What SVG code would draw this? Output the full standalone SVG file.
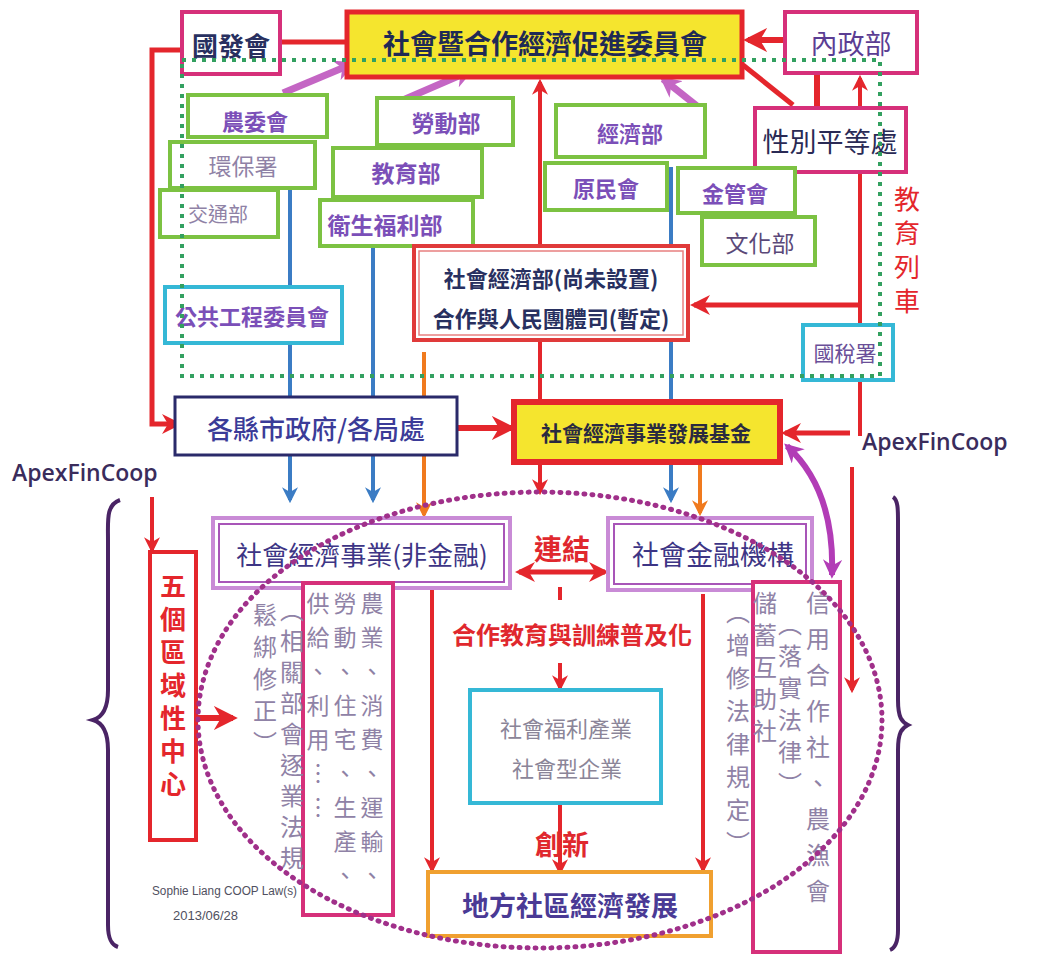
<svg xmlns="http://www.w3.org/2000/svg" width="1037" height="957" viewBox="0 0 1037 957">
<defs>
<style>
.cjk{font-family:"Noto Sans CJK TC","Noto Sans CJK SC",sans-serif;}
.b{font-weight:bold;}
.c{text-anchor:middle;dominant-baseline:central;}
.green{fill:#fff;stroke:#7cc242;stroke-width:4;}
.cyan{fill:#fff;stroke:#35b8d6;stroke-width:4;}
.mag{fill:#fff;stroke:#d6307a;stroke-width:4;}
.vio{fill:#fff;stroke:#c98bd6;stroke-width:4;}
.vioin{fill:none;stroke:#a855b8;stroke-width:2;}
.purp{fill:#7b4fb8;}
.gray{fill:#8f82a6;}
.red{stroke:#e4262c;fill:none;}
.blue{stroke:#3b7cc4;fill:none;stroke-width:4;}
.orange{stroke:#f07a1e;fill:none;stroke-width:4;}
.pink{stroke:#c466c4;fill:none;stroke-width:7;}
.vert{writing-mode:vertical-rl;text-orientation:upright;}
.apex{font-family:"Open Sans",sans-serif;font-weight:600;font-size:23px;fill:#3a2c5c;}
</style>
<marker id="ar" viewBox="0 0 10 10" refX="8" refY="5" markerWidth="4" markerHeight="4" orient="auto-start-reverse" markerUnits="strokeWidth">
<path d="M0,0 L10,5 L0,10 L3,5 z" fill="#e4262c"/>
</marker>
<marker id="ab" viewBox="0 0 10 10" refX="8" refY="5" markerWidth="4" markerHeight="4" orient="auto" markerUnits="strokeWidth">
<path d="M0,0 L10,5 L0,10 L3,5 z" fill="#3b7cc4"/>
</marker>
<marker id="ao" viewBox="0 0 10 10" refX="8" refY="5" markerWidth="4" markerHeight="4" orient="auto" markerUnits="strokeWidth">
<path d="M0,0 L10,5 L0,10 L3,5 z" fill="#f07a1e"/>
</marker>
<marker id="ap" viewBox="0 0 10 10" refX="8" refY="5" markerWidth="3" markerHeight="3" orient="auto-start-reverse" markerUnits="strokeWidth">
<path d="M0,0 L10,5 L0,10 L3,5 z" fill="#c466c4"/>
</marker>
<marker id="am" viewBox="0 0 10 10" refX="8" refY="5" markerWidth="3.2" markerHeight="3.2" orient="auto-start-reverse" markerUnits="strokeWidth">
<path d="M0,0 L10,5 L0,10 L3,5 z" fill="#b23cb6"/>
</marker>
</defs>
<rect width="1037" height="957" fill="#fff"/>

<g id="connectors">
<line class="red" stroke-width="5" x1="280" y1="42" x2="347" y2="42"/>
<line class="red" stroke-width="6" x1="785" y1="40" x2="748" y2="40" marker-end="url(#ar)"/>
<line class="red" stroke-width="5" x1="743" y1="65" x2="793" y2="105"/>
<line class="red" stroke-width="6" x1="817" y1="73" x2="817" y2="108"/>
<path class="red" stroke-width="5" d="M182,50 H152 V424 H178" marker-end="url(#ar)"/>
<line class="red" stroke-width="4" x1="860" y1="436" x2="860" y2="78" marker-end="url(#ar)"/>
<line class="red" stroke-width="5" x1="860" y1="305" x2="694" y2="305" marker-end="url(#ar)"/>
<line class="red" stroke-width="5" x1="850" y1="433" x2="785" y2="433" marker-end="url(#ar)"/>
<line class="red" stroke-width="4" x1="852" y1="467" x2="852" y2="690" marker-end="url(#ar)"/>
<line class="red" stroke-width="4" x1="540" y1="402" x2="540" y2="82" marker-end="url(#ar)"/>
<line class="red" stroke-width="4" x1="540" y1="462" x2="540" y2="492" marker-end="url(#ar)"/>
<line class="blue" x1="290" y1="188" x2="290" y2="500" marker-end="url(#ab)"/>
<line class="blue" x1="373" y1="246" x2="373" y2="500" marker-end="url(#ab)"/>
<line class="blue" x1="671" y1="167" x2="671" y2="500" marker-end="url(#ab)"/>
<line class="orange" x1="424" y1="352" x2="424" y2="515" marker-end="url(#ao)"/>
<line class="orange" x1="700" y1="462" x2="700" y2="513" marker-end="url(#ao)"/>
<line class="red" stroke-width="6" x1="457" y1="428" x2="511" y2="428" marker-end="url(#ar)"/>
<line class="red" stroke-width="5" x1="519" y1="572" x2="605" y2="572" marker-start="url(#ar)" marker-end="url(#ar)"/>
<line class="red" stroke-width="4" x1="560" y1="587" x2="560" y2="600"/>
<line class="red" stroke-width="4" x1="560" y1="663" x2="560" y2="688" marker-end="url(#ar)"/>
<line class="red" stroke-width="4" x1="560" y1="803" x2="560" y2="872" marker-end="url(#ar)"/>
<line class="red" stroke-width="4" x1="432" y1="588" x2="432" y2="870" marker-end="url(#ar)"/>
<line class="red" stroke-width="4" x1="703" y1="594" x2="703" y2="870" marker-end="url(#ar)"/>
<line class="red" stroke-width="4" x1="152" y1="497" x2="152" y2="550" marker-end="url(#ar)"/>
<line class="red" stroke-width="6" x1="197" y1="718" x2="233" y2="718" marker-end="url(#ar)"/>
<line class="pink" x1="283" y1="93" x2="352" y2="64" marker-end="url(#ap)"/>
<line class="pink" x1="403" y1="100" x2="470" y2="71" marker-end="url(#ap)"/>
<line class="pink" x1="702" y1="110" x2="663" y2="79" marker-end="url(#ap)"/>
<path d="M787,446 Q835,490 832,575" fill="none" stroke="#b23cb6" stroke-width="6" marker-start="url(#am)" marker-end="url(#am)"/>
</g>

<g id="n-guofa">
<rect class="mag" x="182" y="12" width="98" height="62" stroke="#d0306a"/>
<text class="cjk b c" x="231" y="44" font-size="26" fill="#283060">國發會</text>
</g>
<g id="n-committee">
<rect x="347" y="12" width="395" height="65" fill="#f5e52e" stroke="#e4262c" stroke-width="5"/>
<text class="cjk b c" x="545" y="42" font-size="27" fill="#1f2a55">社會暨合作經濟促進委員會</text>
</g>
<g id="n-interior">
<rect class="mag" x="785" y="12" width="132" height="61"/>
<text class="cjk c" x="851" y="42" font-size="27" fill="#5b3d93">內政部</text>
</g>
<g id="n-gender">
<rect class="mag" x="755" y="108" width="151" height="64" stroke="#c0307a"/>
<text class="cjk c" x="830" y="140" font-size="27" fill="#2a2a55">性別平等處</text>
</g>
<g id="n-agri">
<rect class="green" x="188" y="95" width="139" height="42"/>
<text class="cjk b c purp" x="255" y="120" font-size="22">農委會</text>
</g>
<g id="n-epa">
<rect class="green" x="170" y="142" width="145" height="46"/>
<text class="cjk c gray" x="243" y="165" font-size="23">環保署</text>
</g>
<g id="n-transport">
<rect class="green" x="160" y="190" width="118" height="47"/>
<text class="cjk c gray" x="218" y="213" font-size="20">交通部</text>
</g>
<g id="n-labor">
<rect class="green" x="377" y="98" width="136" height="47"/>
<text class="cjk b c purp" x="446" y="122" font-size="23">勞動部</text>
</g>
<g id="n-edu">
<rect class="green" x="333" y="148" width="149" height="49"/>
<text class="cjk b c purp" x="406" y="172" font-size="23">教育部</text>
</g>
<g id="n-health">
<rect class="green" x="320" y="200" width="153" height="46"/>
<text class="cjk b c purp" x="385" y="224" font-size="23">衛生福利部</text>
</g>
<g id="n-econ">
<rect class="green" x="556" y="105" width="149" height="52"/>
<text class="cjk b c purp" x="630" y="132" font-size="22">經濟部</text>
</g>
<g id="n-indig">
<rect class="green" x="545" y="163" width="122" height="47"/>
<text class="cjk b c purp" x="606" y="187" font-size="22">原民會</text>
</g>
<g id="n-fsc">
<rect class="green" x="678" y="168" width="117" height="45"/>
<text class="cjk b c purp" x="735" y="192" font-size="22">金管會</text>
</g>
<g id="n-culture">
<rect class="green" x="702" y="217" width="113" height="48"/>
<text class="cjk c" x="760" y="242" font-size="23" fill="#5a4878">文化部</text>
</g>
<g id="n-pcc">
<rect class="cyan" x="165" y="287" width="177" height="56"/>
<text class="cjk b c purp" x="252" y="315" font-size="22">公共工程委員會</text>
</g>
<g id="n-tax">
<rect class="cyan" x="803" y="325" width="90" height="55"/>
<text class="cjk c" x="845" y="352" font-size="21" fill="#6a4f98">國稅署</text>
</g>
<g id="n-socecon-ministry">
<rect x="414" y="246" width="274" height="94" fill="#fff" stroke="#e03a3a" stroke-width="4"/>
<rect x="419" y="251" width="264" height="84" fill="none" stroke="#e88080" stroke-width="1.5"/>
<text class="cjk b c" x="551" y="277" font-size="22" fill="#283060">社會經濟部(尚未設置)</text>
<text class="cjk b c" x="551" y="317" font-size="22" fill="#283060">合作與人民團體司(暫定)</text>
</g>
<g id="n-local-gov">
<rect x="175" y="397" width="282" height="58" fill="#fff" stroke="#2a2a6a" stroke-width="3"/>
<text class="cjk c" x="316" y="427" font-size="26" fill="#3b3b98" font-weight="500">各縣市政府/各局處</text>
</g>
<g id="n-fund">
<rect x="514" y="402" width="266" height="60" fill="#f5e52e" stroke="#e4262c" stroke-width="6"/>
<text class="cjk b c" x="646" y="432" font-size="21" fill="#2a2a40">社會經濟事業發展基金</text>
</g>
<g id="n-apex-right">
<text class="apex" x="862" y="450">ApexFinCoop</text>
</g>
<g id="n-apex-left">
<text class="apex" x="12" y="481">ApexFinCoop</text>
</g>
<g id="n-edu-train-label">
<text class="cjk vert" x="907" y="186" font-size="26" fill="#e4262c" letter-spacing="8">教育列車</text>
</g>
<g id="n-nonfin">
<rect class="vio" x="213" y="518" width="297" height="70"/>
<rect class="vioin" x="219" y="524" width="285" height="58"/>
<text class="cjk c" x="362" y="553" font-size="26" fill="#3d3585">社會經濟事業(非金融)</text>
</g>
<g id="n-fin">
<rect class="vio" x="608" y="518" width="204" height="72"/>
<rect class="vioin" x="614" y="524" width="192" height="60"/>
<text class="cjk c" x="713" y="553" font-size="27" fill="#3d3585">社會金融機構</text>
</g>
<g id="n-link-label">
<text class="cjk b c" x="562" y="548" font-size="28" fill="#e0282e">連結</text>
</g>
<g id="n-coop-edu">
<text class="cjk b c" x="572" y="633" font-size="24" fill="#e0282e">合作教育與訓練普及化</text>
</g>
<g id="n-welfare">
<rect class="cyan" x="470" y="690" width="191" height="113"/>
<text class="cjk c" x="566" y="727" font-size="22" fill="#8b8598">社會福利產業</text>
<text class="cjk c" x="567" y="767" font-size="22" fill="#8b8598">社會型企業</text>
</g>
<g id="n-innov">
<text class="cjk b c" x="562" y="843" font-size="27" fill="#e0282e">創新</text>
</g>
<g id="n-local-dev">
<rect x="428" y="872" width="283" height="64" fill="#fff" stroke="#f0a030" stroke-width="4"/>
<text class="cjk b c" x="570" y="904" font-size="27" fill="#4a3a95">地方社區經濟發展</text>
</g>
<g id="n-regional">
<rect x="150" y="552" width="46" height="288" fill="#fff" stroke="#e4262c" stroke-width="4"/>
<text class="cjk b vert" x="173" y="573" font-size="26" fill="#e4262c" letter-spacing="7">五個區域性中心</text>
</g>
<g id="n-sectors">
<rect class="mag" x="303" y="583" width="90" height="332"/>
<text class="cjk vert gray" x="372" y="592" font-size="23" letter-spacing="11">農業、消費、運輸、</text>
<text class="cjk vert gray" x="345" y="592" font-size="23" letter-spacing="11">勞動、住宅、生產、</text>
<text class="cjk vert gray" x="318" y="592" font-size="23" letter-spacing="11">供給、利用……</text>
<text class="cjk vert gray" x="292" y="598" font-size="24" letter-spacing="7">（相關部會逐業法規</text>
<text class="cjk vert gray" x="265" y="603" font-size="24" letter-spacing="8">鬆綁修正）</text>
</g>
<g id="n-credit">
<rect class="mag" x="753" y="582" width="87" height="370"/>
<text class="cjk vert gray" x="818" y="591" font-size="24" letter-spacing="12">信用合作社、農漁會</text>
<text class="cjk vert gray" x="790" y="612" font-size="24" letter-spacing="8">（落實法律）</text>
<text class="cjk vert gray" x="765" y="591" font-size="24" letter-spacing="8">儲蓄互助社</text>
<text class="cjk vert gray" x="738" y="600" font-size="24" letter-spacing="9">（增修法律規定）</text>
</g>
<g id="n-credit-line">
<text x="152" y="895" font-family="Liberation Sans, sans-serif" font-size="12" fill="#505060" textLength="145" lengthAdjust="spacingAndGlyphs">Sophie Liang COOP Law(s)</text>
<text x="173" y="920" font-family="Liberation Sans, sans-serif" font-size="12" fill="#505060" textLength="65" lengthAdjust="spacingAndGlyphs">2013/06/28</text>
</g>

<g id="overlays">
<rect x="182" y="60" width="698" height="316" fill="none" stroke="#33a060" stroke-width="4" stroke-dasharray="4 6"/>
<ellipse cx="540" cy="720" rx="342" ry="228" fill="none" stroke="#a0308a" stroke-width="5" stroke-dasharray="1 7" stroke-linecap="round"/>
<path d="M120,500 C106,505 108,520 108,540 L108,690 C108,712 100,718 93,720 C100,722 108,728 108,750 L108,925 C108,940 112,945 118,947" fill="none" stroke="#4a2465" stroke-width="4"/>
<path d="M893,497 C898,500 898,510 898,520 L898,700 C898,718 902,722 908,725 C902,728 898,732 898,750 L898,930 C898,942 895,948 890,950" fill="none" stroke="#4a2465" stroke-width="4"/>
</g>
</svg>
